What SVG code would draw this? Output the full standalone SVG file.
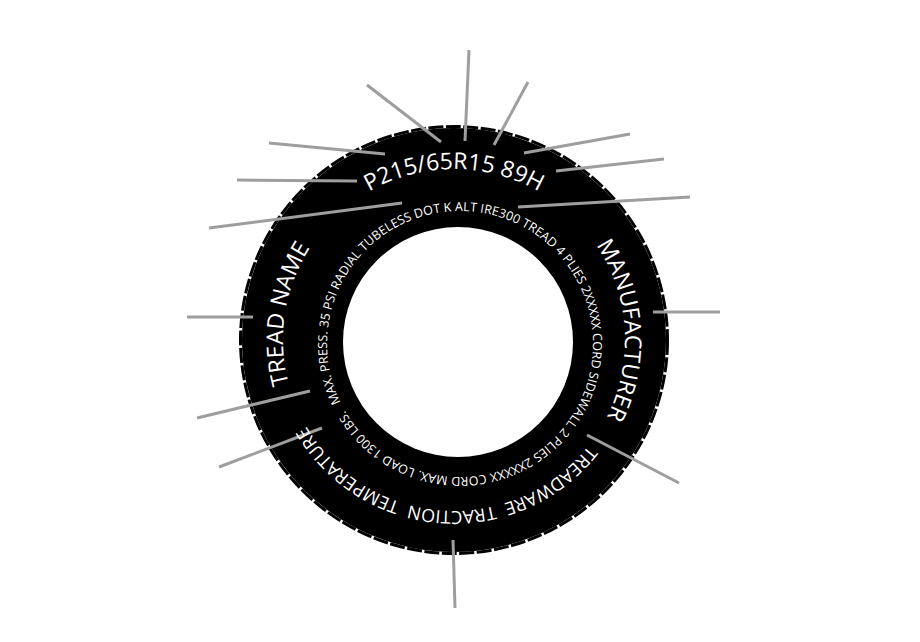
<svg xmlns="http://www.w3.org/2000/svg" xmlns:xlink="http://www.w3.org/1999/xlink" width="920" height="642" viewBox="0 0 920 642">
<style>
.lbl{font-family:"Open Sans","Liberation Sans",sans-serif;fill:#ffffff;}
.big{font-size:23px;}
.mid{font-size:18px;}
.small{font-size:12.5px;}
.lead{stroke:#9e9e9e;stroke-width:3;fill:none;stroke-linecap:butt;}
</style>
<defs>
<path id="ring" d="M 454 511 A 171 171 0 1 1 454 169 A 171 171 0 1 1 454 511"/>
<path id="inner" d="M 340.46 402.31 A 133 133 0 1 1 579.54 285.69 A 133 133 0 1 1 340.46 402.31"/>
</defs>
<rect width="920" height="642" fill="#ffffff"/>
<g id="tire">
<circle cx="454" cy="340" r="212" fill="#000000"/>
<circle cx="454" cy="340" r="213.5" fill="none" stroke="#000000" stroke-width="3" stroke-dasharray="15 2.5"/>
<circle cx="458" cy="342" r="115" fill="#ffffff"/>
</g>
<g id="connectors">
<line class="lead" x1="367" y1="85" x2="441" y2="142"/>
<line class="lead" x1="469" y1="50" x2="465" y2="141"/>
<line class="lead" x1="528" y1="82" x2="494" y2="145"/>
<line class="lead" x1="630" y1="134" x2="524" y2="153"/>
<line class="lead" x1="664" y1="159" x2="556" y2="171"/>
<line class="lead" x1="690" y1="197" x2="518" y2="207"/>
<line class="lead" x1="269" y1="143" x2="385" y2="154"/>
<line class="lead" x1="237" y1="180" x2="357" y2="181"/>
<line class="lead" x1="209" y1="228" x2="402" y2="203"/>
<line class="lead" x1="187" y1="317" x2="253" y2="317"/>
<line class="lead" x1="197" y1="418" x2="310" y2="391"/>
<line class="lead" x1="219" y1="467" x2="322" y2="428"/>
<line class="lead" x1="455" y1="608" x2="453" y2="540"/>
<line class="lead" x1="679" y1="483" x2="587" y2="435"/>
<line class="lead" x1="720" y1="312" x2="653" y2="312"/>
</g>
<g id="size-label">
<text class="lbl big" text-anchor="middle"><textPath xlink:href="#ring" href="#ring" startOffset="50%">P215/65R15 89H</textPath></text>
</g>
<g id="manufacturer-label" transform="rotate(86.5 454 340)">
<text class="lbl big" text-anchor="middle"><textPath xlink:href="#ring" href="#ring" startOffset="50%">MANUFACTURER</textPath></text>
</g>
<g id="tread-name-label" transform="rotate(278.9 454 340)">
<text class="lbl big" text-anchor="middle"><textPath xlink:href="#ring" href="#ring" startOffset="50%">TREAD NAME</textPath></text>
</g>
<g id="utqg-label" transform="rotate(184 454 340)">
<text class="lbl mid" text-anchor="middle" xml:space="preserve"><textPath xlink:href="#ring" href="#ring" startOffset="50%">TREADWARE  TRACTION  TEMPERATURE</textPath></text>
</g>
<g id="sidewall-info">
<text class="lbl small" textLength="826" lengthAdjust="spacing"><textPath xlink:href="#inner" href="#inner" startOffset="0" textLength="826" lengthAdjust="spacing">MAX. PRESS. 35 PSI RADIAL TUBELESS DOT K ALT IRE300 TREAD 4 PLIES 2XXXXX CORD SIDEWALL 2 PLIES 2XXXXX CORD MAX. LOAD 1300 LBS.</textPath></text>
</g>
</svg>
